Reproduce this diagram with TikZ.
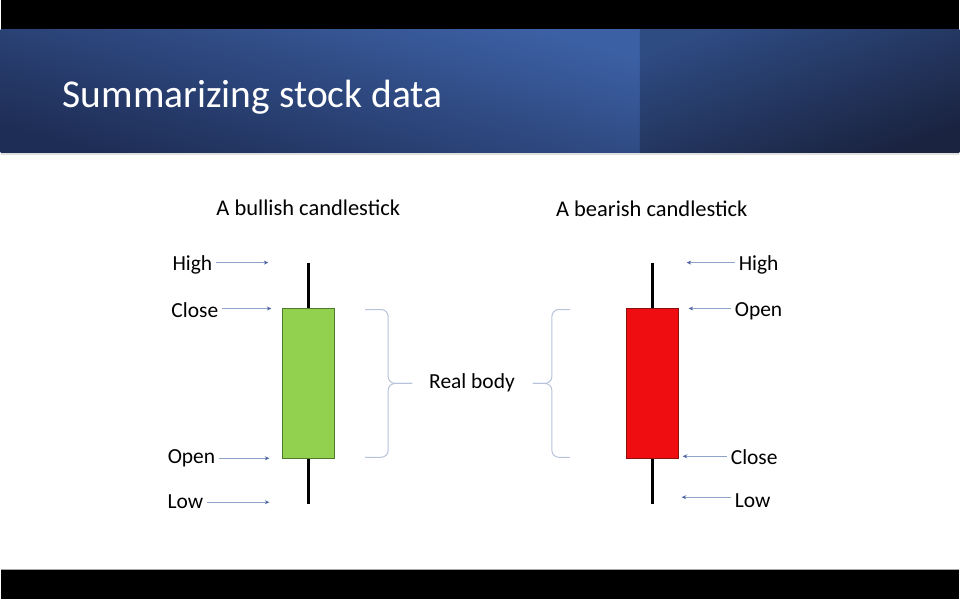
\documentclass[tikz,border=0pt]{standalone}
\usepackage{fontspec}
\setmainfont{Carlito}
\usetikzlibrary{positioning,arrows.meta}

\definecolor{hdrlight}{HTML}{3C60A4}
\definecolor{hdrdark}{HTML}{1E2D55}
\definecolor{hdrsidelight}{HTML}{2E4B82}
\definecolor{hdrsidedark}{HTML}{1A2340}
\definecolor{bullgreen}{HTML}{92D050}
\definecolor{bulledge}{HTML}{4E7A2E}
\definecolor{bearred}{HTML}{F00D12}
\definecolor{bearedge}{HTML}{8A1010}
\definecolor{pointerline}{HTML}{8FA3C9}
\definecolor{pointerhead}{HTML}{4C64A3}
\definecolor{bracegray}{HTML}{B7C2DB}

\tikzset{
	lbl/.style={font=\fontsize{21.5}{26}\selectfont, text=black, inner sep=4pt},
	heading/.style={font=\fontsize{22.5}{27}\selectfont, text=black},
	pointer/.style={draw=pointerline, line width=0.8pt, -{Stealth[length=4.5pt,width=4pt,color=pointerhead]}},
	wick/.style={line width=2.6pt, black},
	candle/.style={rectangle, minimum width=52pt, minimum height=150pt, inner sep=0pt, line width=0.8pt},
	brace/.style={draw=bracegray, line width=1pt, rounded corners=7pt}
}

\begin{document}
\begin{tikzpicture}[x=1pt, y=-1pt, node distance=20pt]
	% frame and header
	\fill[black] (0,0) rectangle (960,600);
	\fill[white] (0,30) rectangle (960,570);
	\draw[gray!70, line width=0.8pt] (0,570) -- (960,570);
	\shade[top color=hdrlight, bottom color=hdrdark, shading angle=-15] (0,30) rectangle (640,153);
	\shade[top color=hdrsidelight, bottom color=hdrsidedark, shading angle=20] (640,30) rectangle (960,153);
	\draw[gray!25, line width=1.5pt] (0,154) -- (960,154);
	\node (title) [anchor=base west, inner sep=0pt, text=white, font=\fontsize{39.5}{46}\selectfont] at (62,108) {Summarizing stock data};

	% bullish candle
	\draw[wick] (308,263) -- (308,505);
	\node (bull) [candle, fill=bullgreen, draw=bulledge] at (308,384) {};
	\node (bulltitle) [heading] at (308,208) {A bullish candlestick};

	\node (bhigh) [lbl, anchor=east] at (216,265) {High};
	\node (bclose) [lbl, anchor=east] at (222,311) {Close};
	\node (bopen) [lbl, anchor=east] at (219,459) {Open};
	\node (blow) [lbl, anchor=east] at (207,502) {Low};
	\coordinate (bhighend) at (268,263);
	\coordinate (bcloseend) at (271,309);
	\coordinate (bopenend) at (269,459);
	\coordinate (blowend) at (269,503);
	\draw[pointer] (bhigh.east |- bhighend) -- (bhighend);
	\draw[pointer] (bclose.east |- bcloseend) -- (bcloseend);
	\draw[pointer] (bopen.east |- bopenend) -- (bopenend);
	\draw[pointer] (blow.east |- blowend) -- (blowend);

	% bearish candle
	\draw[wick] (653,263) -- (653,505);
	\node (bear) [candle, fill=bearred, draw=bearedge] at (653,384) {};
	\node (beartitle) [heading] at (652,209) {A bearish candlestick};

	\node (rhigh) [lbl, anchor=west] at (735,265) {High};
	\node (ropen) [lbl, anchor=west] at (731,312) {Open};
	\node (rclose) [lbl, anchor=west] at (727,458) {Close};
	\node (rlow) [lbl, anchor=west] at (731,501) {Low};
	\coordinate (rhighend) at (687,263);
	\coordinate (ropenend) at (689,309);
	\coordinate (rcloseend) at (683,457);
	\coordinate (rlowend) at (682,498);
	\draw[pointer] (rhigh.west |- rhighend) -- (rhighend);
	\draw[pointer] (ropen.west |- ropenend) -- (ropenend);
	\draw[pointer] (rclose.west |- rcloseend) -- (rcloseend);
	\draw[pointer] (rlow.west |- rlowend) -- (rlowend);

	% real body braces
	\node (realbody) [lbl] at (472,383) {Real body};
	\draw[brace] (365,310) -- (388,310) -- (388,384) -- (412,384);
	\draw[brace] (412,384) -- (388,384) -- (388,458) -- (365,458);
	\draw[brace] (570,310) -- (552,310) -- (552,384) -- (533,384);
	\draw[brace] (533,384) -- (552,384) -- (552,458) -- (570,458);
\end{tikzpicture}
\end{document}
